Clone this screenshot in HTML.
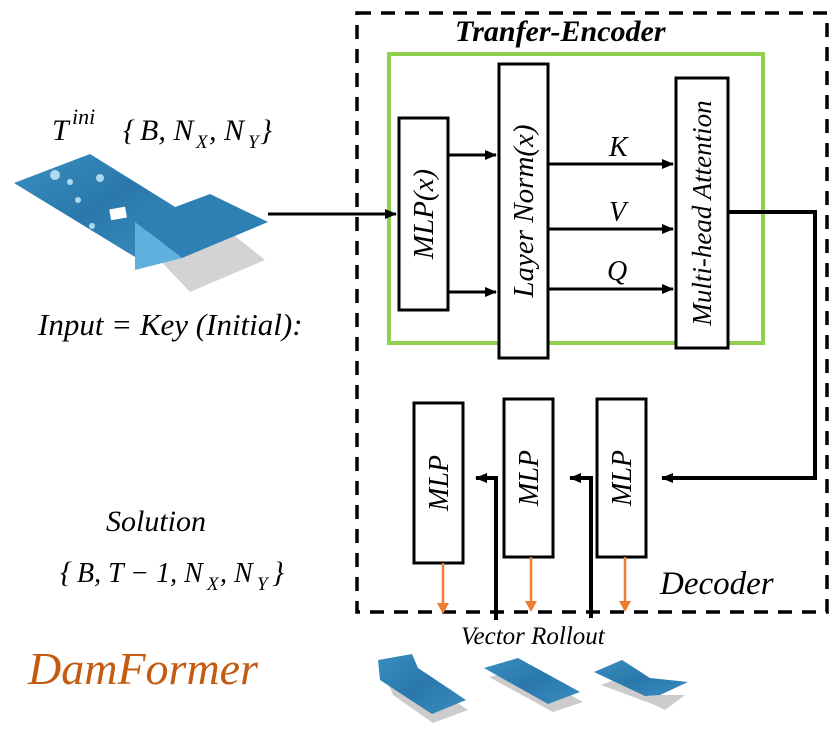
<!DOCTYPE html><html><head><style>body{margin:0;background:#fff}svg{display:block}text{font-family:"Liberation Serif",serif;font-style:italic}</style></head><body>
<svg width="830" height="738" viewBox="0 0 830 738" xmlns="http://www.w3.org/2000/svg">
<defs>
<marker id="a" markerWidth="14" markerHeight="14" refX="11" refY="7" orient="auto" markerUnits="userSpaceOnUse"><path d="M0,2 L12,7 L0,12z" fill="#000"/></marker>
<linearGradient id="w" x1="0" y1="0" x2="1" y2="1"><stop offset="0" stop-color="#3a8fc0"/><stop offset="0.5" stop-color="#2a78ab"/><stop offset="1" stop-color="#3b8cbf"/></linearGradient>
</defs>
<rect x="357" y="13" width="470" height="599" fill="none" stroke="#000" stroke-width="3.5" stroke-dasharray="14,10"/>
<text x="455" y="41" font-size="30" font-weight="bold">Tranfer-Encoder</text>
<rect x="389" y="54" width="374" height="289" fill="none" stroke="#8fd14f" stroke-width="4"/>
<rect x="399" y="118" width="49" height="192" fill="#fff" stroke="#000" stroke-width="3"/>
<text transform="translate(433,214) rotate(-90)" font-size="29" text-anchor="middle">MLP(x)</text>
<rect x="499" y="64" width="49" height="294" fill="#fff" stroke="#000" stroke-width="3"/>
<text transform="translate(533,211) rotate(-90)" font-size="29" text-anchor="middle">Layer Norm(x)</text>
<rect x="676" y="78" width="52" height="270" fill="#fff" stroke="#000" stroke-width="3"/>
<text transform="translate(711,213) rotate(-90)" font-size="27" text-anchor="middle">Multi-head  Attention</text>
<g stroke="#000" stroke-width="3" marker-end="url(#a)">
<line x1="448" y1="155" x2="496" y2="155"/><line x1="448" y1="292" x2="496" y2="292"/>
<line x1="548" y1="164" x2="673" y2="164"/><line x1="548" y1="229" x2="673" y2="229"/><line x1="548" y1="289" x2="673" y2="289"/>
<line x1="268" y1="214" x2="396" y2="214"/>
</g>
<text x="609" y="156" font-size="28">K</text><text x="609" y="221" font-size="28">V</text><text x="607" y="280" font-size="28">Q</text>
<polyline points="728,212 815,212 815,478 662,478" fill="none" stroke="#000" stroke-width="4" marker-end="url(#a)"/>
<rect x="414" y="403" width="49" height="160" fill="#fff" stroke="#000" stroke-width="3"/>
<text transform="translate(448,483) rotate(-90)" font-size="28" text-anchor="middle">MLP</text>
<rect x="504" y="399" width="49" height="158" fill="#fff" stroke="#000" stroke-width="3"/>
<text transform="translate(538,478) rotate(-90)" font-size="28" text-anchor="middle">MLP</text>
<rect x="597" y="399" width="49" height="158" fill="#fff" stroke="#000" stroke-width="3"/>
<text transform="translate(631,478) rotate(-90)" font-size="28" text-anchor="middle">MLP</text>
<polyline points="591,618 591,478 570,478" fill="none" stroke="#000" stroke-width="4" marker-end="url(#a)"/>
<polyline points="496,620 496,478 476,478" fill="none" stroke="#000" stroke-width="4" marker-end="url(#a)"/>
<g stroke="#ed7d31" stroke-width="2.5">
<line x1="443" y1="563" x2="443" y2="605"/><line x1="531" y1="557" x2="531" y2="605"/><line x1="625" y1="557" x2="625" y2="605"/></g>
<g fill="#ed7d31"><path d="M437,603 L449,603 L443,614z"/><path d="M525,601 L537,601 L531,612z"/><path d="M619,601 L631,601 L625,612z"/></g>
<text x="660" y="594" font-size="33">Decoder</text>
<text x="461" y="644" font-size="25">Vector Rollout</text>
<path d="M380,665 L410,660 L420,675 L465,705 L430,718 L390,690z" fill="#ccc" transform="translate(3,5)"/>
<path d="M378,660 L412,654 L418,668 L466,700 L432,714 L380,680z" fill="url(#w)"/>
<path d="M486,670 L520,662 L580,695 L550,705z" fill="#ccc" transform="translate(3,7)"/>
<path d="M484,668 L518,658 L580,692 L548,704z" fill="url(#w)"/>
<path d="M596,675 L625,664 L650,685 L680,685 L660,700 L650,695z" fill="#ccc" transform="translate(5,10)"/>
<path d="M594,672 L622,660 L650,678 L688,682 L660,695 L645,696z" fill="url(#w)"/>
<path d="M150,250 L215,220 L265,260 L190,292z" fill="#d3d3d3"/>
<path d="M14,183 L90,154 L180,210 L135,240 L135,257z" fill="url(#w)"/>
<path d="M135,222 L210,194 L268,222 L182,258z" fill="#2e7fb4"/>
<path d="M135,222 L182,258 L135,270z" fill="#5fb0dc"/>
<rect x="110" y="208" width="16" height="11" fill="#fff" transform="rotate(-10 118 213)"/>
<g fill="#cfefff" opacity="0.8"><circle cx="55" cy="175" r="5"/><circle cx="70" cy="182" r="3"/><circle cx="100" cy="178" r="4"/><circle cx="78" cy="200" r="3"/><circle cx="92" cy="226" r="3"/></g>
<text x="52" y="140" font-size="30">T</text><text x="72" y="124" font-size="22">ini</text>
<text x="123" y="140" font-size="30" font-style="normal" font-family="DejaVu Serif">{</text>
<text x="140" y="140" font-size="30">B, N</text><text x="196" y="148" font-size="19">X</text><text x="209" y="140" font-size="30">, N</text><text x="248" y="148" font-size="19">Y</text><text x="260" y="140" font-size="30" font-style="normal" font-family="DejaVu Serif">}</text>
<text x="38" y="335" font-size="31">Input = Key (Initial):</text>
<text x="106" y="531" font-size="30">Solution</text>
<text x="60" y="582" font-size="30" font-style="normal" font-family="DejaVu Serif">{</text>
<text x="77" y="582" font-size="28">B, T − 1, N</text><text x="207" y="590" font-size="19">X</text><text x="220" y="582" font-size="28">, N</text><text x="257" y="590" font-size="19">Y</text><text x="272" y="582" font-size="30" font-style="normal" font-family="DejaVu Serif">}</text>
<text x="28" y="684" font-size="46" fill="#c55a11">DamFormer</text>
</svg></body></html>
